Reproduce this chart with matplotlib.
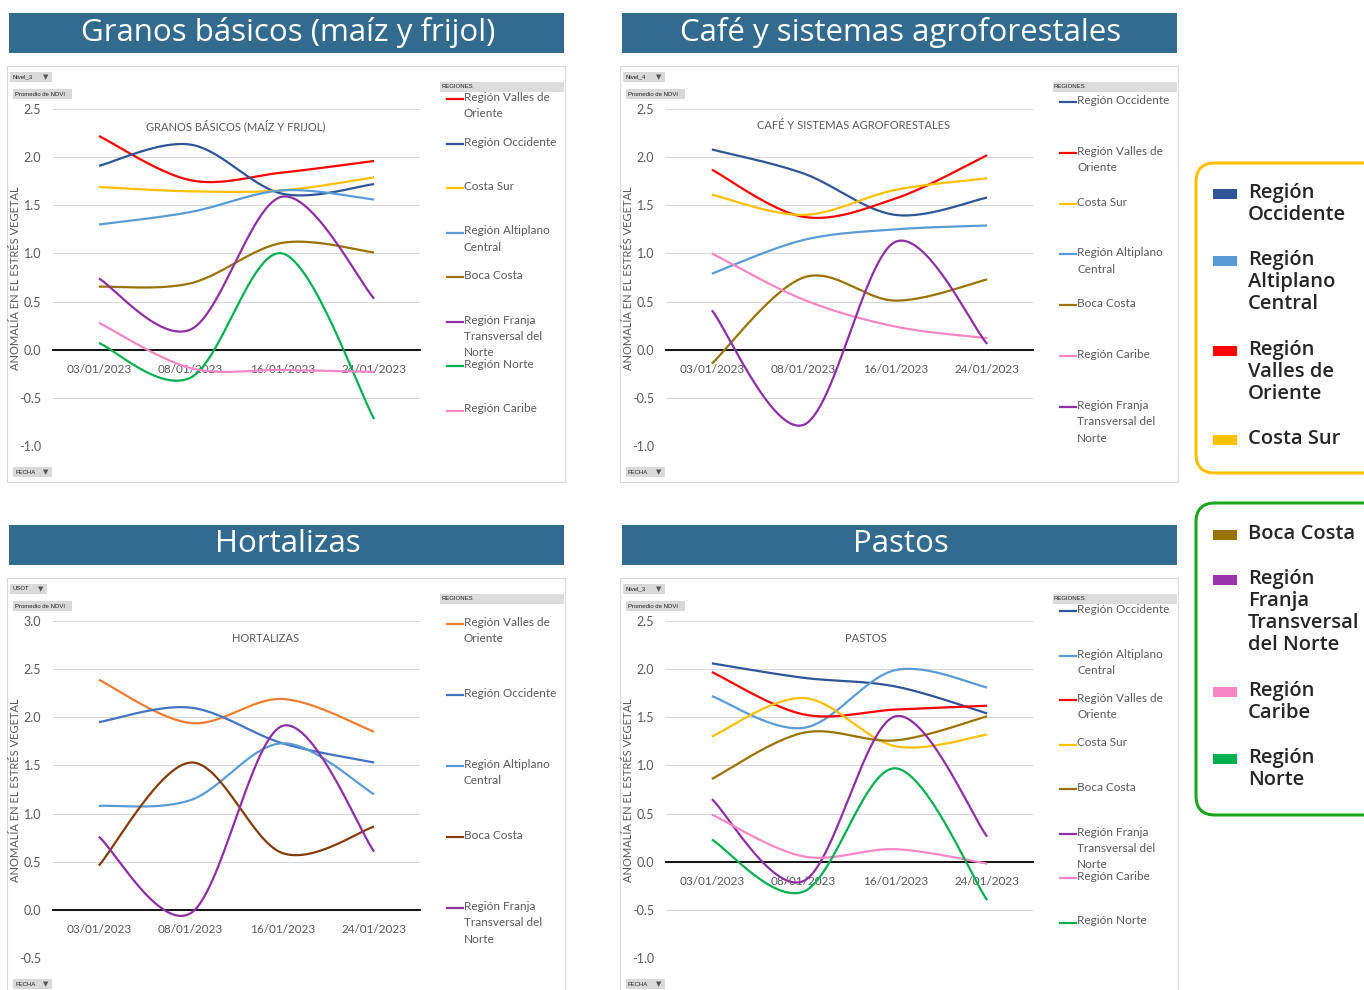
import numpy as np
import matplotlib
matplotlib.use("Agg")
import matplotlib.pyplot as plt
from matplotlib.patches import Rectangle, FancyBboxPatch
from matplotlib.ticker import FormatStrFormatter, MultipleLocator

plt.rcParams['axes.unicode_minus'] = False
plt.rcParams['font.family'] = ['Lato', 'DejaVu Sans']

W, H = 1364, 990

# ---------------- data ----------------
dates = ["03/01/2023", "08/01/2023", "16/01/2023", "24/01/2023"]

panel_titles = ["Granos básicos (maíz y frijol)", "Café y sistemas agroforestales",
                "Hortalizas", "Pastos"]
chart_titles = ["GRANOS BÁSICOS (MAÍZ Y FRIJOL)", "CAFÉ Y SISTEMAS AGROFORESTALES",
                "HORTALIZAS", "PASTOS"]
filter_labels = ["Nivel_3", "Nivel_4", "USOT", "Nivel_3"]
y_label = "ANOMALÍA EN EL ESTRÉS VEGETAL"

# Granos básicos
granos_series = ["Región Valles de\nOriente", "Región Occidente", "Costa Sur",
                 "Región Altiplano\nCentral", "Boca Costa",
                 "Región Franja\nTransversal del\nNorte", "Región Norte", "Región Caribe"]
granos_valles = [2.22, 1.76, 1.84, 1.96]
granos_occidente = [1.91, 2.13, 1.62, 1.72]
granos_costa_sur = [1.69, 1.645, 1.655, 1.79]
granos_altiplano = [1.30, 1.43, 1.655, 1.56]
granos_boca = [0.655, 0.69, 1.11, 1.01]
granos_franja = [0.74, 0.21, 1.59, 0.53]
granos_norte = [0.07, -0.29, 1.00, -0.72]
granos_caribe = [0.28, -0.19, -0.21, -0.23]

# Café y sistemas agroforestales
cafe_series = ["Región Occidente", "Región Valles de\nOriente", "Costa Sur",
               "Región Altiplano\nCentral", "Boca Costa", "Región Caribe",
               "Región Franja\nTransversal del\nNorte"]
cafe_occidente = [2.08, 1.83, 1.40, 1.58]
cafe_valles = [1.87, 1.38, 1.57, 2.02]
cafe_costa_sur = [1.61, 1.40, 1.66, 1.78]
cafe_altiplano = [0.79, 1.14, 1.25, 1.29]
cafe_boca = [-0.145, 0.75, 0.51, 0.73]
cafe_caribe = [1.00, 0.52, 0.24, 0.12]
cafe_franja = [0.41, -0.78, 1.12, 0.06]

# Hortalizas
hort_series = ["Región Valles de\nOriente", "Región Occidente",
               "Región Altiplano\nCentral", "Boca Costa",
               "Región Franja\nTransversal del\nNorte"]
hort_valles = [2.39, 1.94, 2.19, 1.85]
hort_occidente = [1.95, 2.10, 1.73, 1.53]
hort_altiplano = [1.08, 1.14, 1.73, 1.20]
hort_boca = [0.46, 1.53, 0.59, 0.865]
hort_franja = [0.76, -0.035, 1.91, 0.605]

# Pastos
pastos_series = ["Región Occidente", "Región Altiplano\nCentral",
                 "Región Valles de\nOriente", "Costa Sur", "Boca Costa",
                 "Región Franja\nTransversal del\nNorte", "Región Caribe", "Región Norte"]
pastos_occidente = [2.06, 1.91, 1.82, 1.54]
pastos_altiplano = [1.72, 1.39, 1.99, 1.81]
pastos_valles = [1.97, 1.53, 1.58, 1.62]
pastos_costa_sur = [1.30, 1.70, 1.20, 1.32]
pastos_boca = [0.86, 1.34, 1.26, 1.51]
pastos_franja = [0.65, -0.20, 1.51, 0.26]
pastos_caribe = [0.49, 0.055, 0.13, -0.02]
pastos_norte = [0.23, -0.31, 0.97, -0.40]

legend_labels = ["Región\nOccidente", "Región\nAltiplano\nCentral", "Región\nValles de\nOriente",
                 "Costa Sur", "Boca Costa", "Región\nFranja\nTransversal\ndel Norte",
                 "Región\nCaribe", "Región\nNorte"]

# ---------------- styles ----------------
C_OCC = "#2f5597"
C_ALT = "#5b9bd5"
C_VAL = "#ff0000"
C_CS = "#ffc000"
C_BOCA = "#997300"
C_FRA = "#8e2fa3"
C_CAR = "#f587c4"
C_NOR = "#00b050"
C_VAL_H = "#ed7d31"
C_OCC_H = "#4472c4"
C_BOCA_H = "#843c0c"
HEADER = "#336b8e"
TXT = "#595959"

fig = plt.figure(figsize=(W / 100, H / 100), dpi=100)
fig.patch.set_facecolor("white")


def fx(x):
    return x / W


def fy(y):
    return 1 - y / H


def rect_px(x0, y0, x1, y1, zorder=1, **kw):
    r = Rectangle((fx(x0), fy(y1)), (x1 - x0) / W, (y1 - y0) / H,
                  transform=fig.transFigure, zorder=zorder, **kw)
    fig.add_artist(r)
    return r


def smooth(xs, ys, n=60):
    pts = np.column_stack([xs, ys]).astype(float)
    m = len(pts)
    out = []
    t = np.linspace(0, 1, n)[:, None]
    for i in range(m - 1):
        p0 = pts[max(i - 1, 0)]
        p1 = pts[i]
        p2 = pts[i + 1]
        p3 = pts[min(i + 2, m - 1)]
        c1 = p1 + (p2 - p0) / 6.0
        c2 = p2 - (p3 - p1) / 6.0
        seg = ((1 - t) ** 3) * p1 + 3 * ((1 - t) ** 2) * t * c1 + 3 * (1 - t) * t ** 2 * c2 + t ** 3 * p2
        out.append(seg if i == 0 else seg[1:])
    s = np.vstack(out)
    return s[:, 0], s[:, 1]


def button(x0, y0, x1, y1, label, funnel=True):
    rect_px(x0, y0, x1, y1, facecolor="#d9d9d9", edgecolor="none")
    fig.text(fx(x0 + 2), fy((y0 + y1) / 2), label, fontsize=4.3, color="#222222",
             va="center", ha="left", family=["Liberation Sans Narrow", "Liberation Sans", "DejaVu Sans"])
    if funnel:
        fig.text(fx(x1 - 6), fy((y0 + y1) / 2 + 0.5), "▼", fontsize=5, color="#555555",
                 va="center", ha="center", family=["DejaVu Sans"])


def panel(ox, oy, box_bottom, title, ctitle, flabel, ylim, series, legend_gap, legend_first):
    # header
    rect_px(ox + 9, oy + 13, ox + 564, oy + 53, facecolor=HEADER, edgecolor="none")
    fig.text(fx(ox + 288), fy(oy + 32), title, color="white", fontsize=22.5,
             ha="center", va="center", family=["Open Sans", "DejaVu Sans"])
    # chart box
    rect_px(ox + 7, oy + 66, ox + 565, box_bottom, zorder=-1, facecolor="white",
            edgecolor="#d9d9d9", lw=0.8)
    # buttons
    button(ox + 10, oy + 72, ox + 52 if flabel != "USOT" else ox + 47, oy + 82, flabel)
    button(ox + 13, oy + 89, ox + 72, oy + 99, "Promedio de NDVI", funnel=False)
    button(ox + 13, oy + 467, ox + 52, oy + 477, "FECHA")
    # legend header
    rect_px(ox + 440, oy + 82, ox + 564, oy + 92, facecolor="#dcdcdc", edgecolor="none")
    fig.text(fx(ox + 441), fy(oy + 87), "REGIONES", fontsize=4.3, color="#222222",
             va="center", ha="left", family=["Liberation Sans Narrow", "Liberation Sans", "DejaVu Sans"])

    # plot axes
    y_top, y_bot = oy + 109, oy + 446
    ax = fig.add_axes([fx(ox + 53), fy(y_bot), (420 - 53) / W, (y_bot - y_top) / H])
    ax.set_zorder(5)
    ax.set_facecolor("none")
    ax.set_xlim(-0.5, 3.5)
    ax.set_ylim(*ylim)
    ax.yaxis.set_major_locator(MultipleLocator(0.5))
    ax.yaxis.set_major_formatter(FormatStrFormatter("%.1f"))
    ax.grid(axis="y", color="#d9d9d9", lw=0.8)
    ax.set_axisbelow(True)
    for s in ["top", "right", "left"]:
        ax.spines[s].set_visible(False)
    ax.spines["bottom"].set_position(("data", 0))
    ax.spines["bottom"].set_color("black")
    ax.spines["bottom"].set_linewidth(1.3)
    ax.spines["bottom"].set_zorder(1.5)
    ax.set_xticks(range(len(dates)))
    ax.set_xticklabels(dates)
    ax.tick_params(axis="both", length=0, labelsize=8.5, labelcolor=TXT)
    ax.tick_params(axis="y", pad=8.5, labelsize=9)
    ax.tick_params(axis="x", pad=10)
    xs = np.arange(len(dates))
    for k, (lab, vals, col) in enumerate(series):
        sx, sy = smooth(xs, vals)
        ax.plot(sx, sy, color=col, lw=1.6, solid_capstyle="butt", zorder=3 + k)
    # chart title
    fig.text(fx(ox + ctitle[1]), fy(oy + 126), ctitle[0], fontsize=8, color=TXT,
             ha="center", va="center")
    # y label
    fig.text(fx(ox + 16), fy(oy + 278), y_label, rotation=90, fontsize=8, color=TXT,
             ha="center", va="center")
    # legend
    for k, (lab, vals, col) in enumerate(series):
        ly = oy + legend_first + k * legend_gap
        fig.add_artist(plt.Line2D([fx(ox + 447), fx(ox + 463)], [fy(ly), fy(ly)],
                                  transform=fig.transFigure, color=col, lw=1.6))
        fig.text(fx(ox + 464), fy(ly - 7), lab, fontsize=8.5, color=TXT, ha="left",
                 va="top", linespacing=1.6)
    return ax


panel(0, 0, 482, panel_titles[0], (chart_titles[0], 236), filter_labels[0], (-1.0, 2.5),
      list(zip(granos_series,
               [granos_valles, granos_occidente, granos_costa_sur, granos_altiplano,
                granos_boca, granos_franja, granos_norte, granos_caribe],
               [C_VAL, C_OCC, C_CS, C_ALT, C_BOCA, C_FRA, C_NOR, C_CAR])),
      44.5, 99)

panel(613, 0, 482, panel_titles[1], (chart_titles[1], 241), filter_labels[1], (-1.0, 2.5),
      list(zip(cafe_series,
               [cafe_occidente, cafe_valles, cafe_costa_sur, cafe_altiplano,
                cafe_boca, cafe_caribe, cafe_franja],
               [C_OCC, C_VAL, C_CS, C_ALT, C_BOCA, C_CAR, C_FRA])),
      50.8, 102)

panel(0, 512, 1000, panel_titles[2], (chart_titles[2], 266), filter_labels[2], (-0.5, 3.0),
      list(zip(hort_series,
               [hort_valles, hort_occidente, hort_altiplano, hort_boca, hort_franja],
               [C_VAL_H, C_OCC_H, C_ALT, C_BOCA_H, C_FRA])),
      71, 112)

panel(613, 512, 1000, panel_titles[3], (chart_titles[3], 253), filter_labels[3], (-1.0, 2.5),
      list(zip(pastos_series,
               [pastos_occidente, pastos_altiplano, pastos_valles, pastos_costa_sur,
                pastos_boca, pastos_franja, pastos_caribe, pastos_norte],
               [C_OCC, C_ALT, C_VAL, C_CS, C_BOCA, C_FRA, C_CAR, C_NOR])),
      44.5, 99)

# ---------------- right-side legends ----------------
def rbox(y0, y1, col):
    p = FancyBboxPatch((fx(1196), fy(y1)), (1400 - 1196) / W, (y1 - y0) / H,
                       boxstyle="round,pad=0,rounding_size=0.014",
                       transform=fig.transFigure, facecolor="white", edgecolor=col, lw=2.2,
                       mutation_aspect=W / H)
    fig.add_artist(p)


rbox(163, 473, "#ffc000")
rbox(503, 815, "#1aa51a")

legend_colors = [C_OCC, C_ALT, C_VAL, C_CS, C_BOCA, "#9933aa", C_CAR, C_NOR]
legend_y = [194, 261, 351, 440, 535, 580, 692, 759]
for lab, col, ly in zip(legend_labels, legend_colors, legend_y):
    rect_px(1213, ly - 5, 1237, ly + 5, facecolor=col, edgecolor="none")
    fig.text(fx(1248), fy(ly - 11), lab, fontsize=14.5, fontweight="semibold", color="#262626",
             ha="left", va="top", linespacing=1.13, family=["Open Sans", "DejaVu Sans"])

fig.savefig("out.png", dpi=100, facecolor="white")
